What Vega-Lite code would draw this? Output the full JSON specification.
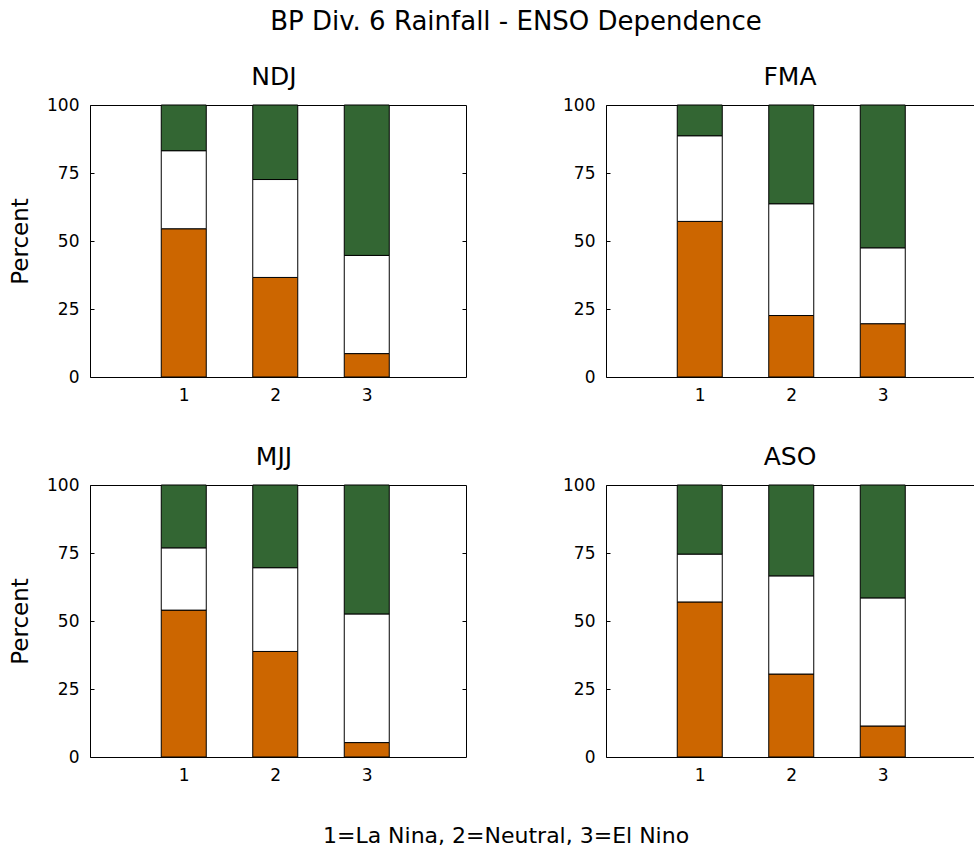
{
  "$schema": "https://vega.github.io/schema/vega-lite/v6.json",
  "background": "white",
  "padding": {"left": 9, "top": 8, "right": 0, "bottom": 2},
  "config": {
    "font": "DejaVu Sans",
    "view": {"stroke": "black", "strokeWidth": 1},
    "axis": {
      "labelFont": "DejaVu Sans", "labelFontSize": 17, "labelColor": "black",
      "tickColor": "black", "domain": false, "grid": false,
      "titleFont": "DejaVu Sans", "titleFontSize": 23, "titleFontWeight": "normal", "titleColor": "black"
    },
    "axisX": {"tickSize": 0, "labelPadding": 10},
    "axisY": {"tickSize": 4, "offset": -4, "labelPadding": 11},
    "title": {"font": "DejaVu Sans", "fontWeight": "normal", "color": "black", "fontSize": 25, "baseline": "bottom", "offset": 6, "dx": -4}
  },
  "title": {"text": "BP Div. 6 Rainfall - ENSO Dependence", "fontSize": 26, "anchor": "middle", "offset": 30, "dx": 20},
  "data": {"values": [
    {"season": "NDJ", "enso": 1, "tercile": "Below", "t": 1, "pct": 54.5},
    {"season": "NDJ", "enso": 1, "tercile": "Near", "t": 2, "pct": 28.7},
    {"season": "NDJ", "enso": 1, "tercile": "Above", "t": 3, "pct": 16.8},
    {"season": "NDJ", "enso": 2, "tercile": "Below", "t": 1, "pct": 36.6},
    {"season": "NDJ", "enso": 2, "tercile": "Near", "t": 2, "pct": 36.0},
    {"season": "NDJ", "enso": 2, "tercile": "Above", "t": 3, "pct": 27.4},
    {"season": "NDJ", "enso": 3, "tercile": "Below", "t": 1, "pct": 8.6},
    {"season": "NDJ", "enso": 3, "tercile": "Near", "t": 2, "pct": 36.1},
    {"season": "NDJ", "enso": 3, "tercile": "Above", "t": 3, "pct": 55.3},
    {"season": "FMA", "enso": 1, "tercile": "Below", "t": 1, "pct": 57.2},
    {"season": "FMA", "enso": 1, "tercile": "Near", "t": 2, "pct": 31.5},
    {"season": "FMA", "enso": 1, "tercile": "Above", "t": 3, "pct": 11.3},
    {"season": "FMA", "enso": 2, "tercile": "Below", "t": 1, "pct": 22.6},
    {"season": "FMA", "enso": 2, "tercile": "Near", "t": 2, "pct": 41.1},
    {"season": "FMA", "enso": 2, "tercile": "Above", "t": 3, "pct": 36.3},
    {"season": "FMA", "enso": 3, "tercile": "Below", "t": 1, "pct": 19.6},
    {"season": "FMA", "enso": 3, "tercile": "Near", "t": 2, "pct": 27.9},
    {"season": "FMA", "enso": 3, "tercile": "Above", "t": 3, "pct": 52.5},
    {"season": "MJJ", "enso": 1, "tercile": "Below", "t": 1, "pct": 54.0},
    {"season": "MJJ", "enso": 1, "tercile": "Near", "t": 2, "pct": 22.9},
    {"season": "MJJ", "enso": 1, "tercile": "Above", "t": 3, "pct": 23.1},
    {"season": "MJJ", "enso": 2, "tercile": "Below", "t": 1, "pct": 38.8},
    {"season": "MJJ", "enso": 2, "tercile": "Near", "t": 2, "pct": 30.8},
    {"season": "MJJ", "enso": 2, "tercile": "Above", "t": 3, "pct": 30.4},
    {"season": "MJJ", "enso": 3, "tercile": "Below", "t": 1, "pct": 5.3},
    {"season": "MJJ", "enso": 3, "tercile": "Near", "t": 2, "pct": 47.3},
    {"season": "MJJ", "enso": 3, "tercile": "Above", "t": 3, "pct": 47.4},
    {"season": "ASO", "enso": 1, "tercile": "Below", "t": 1, "pct": 57.0},
    {"season": "ASO", "enso": 1, "tercile": "Near", "t": 2, "pct": 17.6},
    {"season": "ASO", "enso": 1, "tercile": "Above", "t": 3, "pct": 25.4},
    {"season": "ASO", "enso": 2, "tercile": "Below", "t": 1, "pct": 30.5},
    {"season": "ASO", "enso": 2, "tercile": "Near", "t": 2, "pct": 36.1},
    {"season": "ASO", "enso": 2, "tercile": "Above", "t": 3, "pct": 33.4},
    {"season": "ASO", "enso": 3, "tercile": "Below", "t": 1, "pct": 11.4},
    {"season": "ASO", "enso": 3, "tercile": "Near", "t": 2, "pct": 47.1},
    {"season": "ASO", "enso": 3, "tercile": "Above", "t": 3, "pct": 41.5}
  ]},
  "vconcat": [{
    "title": {"text": "1=La Nina, 2=Neutral, 3=El Nino", "orient": "bottom", "fontSize": 22, "baseline": "top", "offset": 42, "anchor": "middle", "dx": 10},
    "columns": 2,
    "spacing": {"row": 108, "column": 140},
    "bounds": "flush",
    "concat": [
      {
        "width": 376, "height": 272, "title": "NDJ",
        "transform": [{"filter": "datum.season === 'NDJ'"}],
        "layer": [
          {"mark": {"type": "bar", "width": 45, "stroke": "black", "strokeWidth": 1},
           "encoding": {
             "x": {"field": "enso", "type": "quantitative", "scale": {"domain": [0.03, 4.03], "nice": false, "zero": false}, "axis": {"values": [1, 2, 3], "title": null}},
             "y": {"field": "pct", "type": "quantitative", "stack": "zero", "scale": {"domain": [0, 100], "nice": false}, "axis": {"values": [0, 25, 50, 75, 100], "title": "Percent", "titlePadding": 14}},
             "color": {"field": "tercile", "type": "nominal", "scale": {"domain": ["Below", "Near", "Above"], "range": ["#CC6600", "#FFFFFF", "#336633"]}, "legend": null},
             "order": {"field": "t", "type": "quantitative"}
           }},
          {"mark": {"type": "rule", "opacity": 0},
           "encoding": {"y": {"field": "pct", "type": "quantitative", "axis": {"orient": "right", "values": [25, 50, 75], "labels": false, "title": null}}}}
        ],
        "resolve": {"axis": {"y": "independent"}}
      },
      {
        "width": 376, "height": 272, "title": "FMA",
        "transform": [{"filter": "datum.season === 'FMA'"}],
        "layer": [
          {"mark": {"type": "bar", "width": 45, "stroke": "black", "strokeWidth": 1},
           "encoding": {
             "x": {"field": "enso", "type": "quantitative", "scale": {"domain": [0.03, 4.03], "nice": false, "zero": false}, "axis": {"values": [1, 2, 3], "title": null}},
             "y": {"field": "pct", "type": "quantitative", "stack": "zero", "scale": {"domain": [0, 100], "nice": false}, "axis": {"values": [0, 25, 50, 75, 100], "title": null}},
             "color": {"field": "tercile", "type": "nominal", "scale": {"domain": ["Below", "Near", "Above"], "range": ["#CC6600", "#FFFFFF", "#336633"]}, "legend": null},
             "order": {"field": "t", "type": "quantitative"}
           }},
          {"mark": {"type": "rule", "opacity": 0},
           "encoding": {"y": {"field": "pct", "type": "quantitative", "axis": {"orient": "right", "values": [25, 50, 75], "labels": false, "title": null}}}}
        ],
        "resolve": {"axis": {"y": "independent"}}
      },
      {
        "width": 376, "height": 272, "title": "MJJ",
        "transform": [{"filter": "datum.season === 'MJJ'"}],
        "layer": [
          {"mark": {"type": "bar", "width": 45, "stroke": "black", "strokeWidth": 1},
           "encoding": {
             "x": {"field": "enso", "type": "quantitative", "scale": {"domain": [0.03, 4.03], "nice": false, "zero": false}, "axis": {"values": [1, 2, 3], "title": null}},
             "y": {"field": "pct", "type": "quantitative", "stack": "zero", "scale": {"domain": [0, 100], "nice": false}, "axis": {"values": [0, 25, 50, 75, 100], "title": "Percent", "titlePadding": 14}},
             "color": {"field": "tercile", "type": "nominal", "scale": {"domain": ["Below", "Near", "Above"], "range": ["#CC6600", "#FFFFFF", "#336633"]}, "legend": null},
             "order": {"field": "t", "type": "quantitative"}
           }},
          {"mark": {"type": "rule", "opacity": 0},
           "encoding": {"y": {"field": "pct", "type": "quantitative", "axis": {"orient": "right", "values": [25, 50, 75], "labels": false, "title": null}}}}
        ],
        "resolve": {"axis": {"y": "independent"}}
      },
      {
        "width": 376, "height": 272, "title": "ASO",
        "transform": [{"filter": "datum.season === 'ASO'"}],
        "layer": [
          {"mark": {"type": "bar", "width": 45, "stroke": "black", "strokeWidth": 1},
           "encoding": {
             "x": {"field": "enso", "type": "quantitative", "scale": {"domain": [0.03, 4.03], "nice": false, "zero": false}, "axis": {"values": [1, 2, 3], "title": null}},
             "y": {"field": "pct", "type": "quantitative", "stack": "zero", "scale": {"domain": [0, 100], "nice": false}, "axis": {"values": [0, 25, 50, 75, 100], "title": null}},
             "color": {"field": "tercile", "type": "nominal", "scale": {"domain": ["Below", "Near", "Above"], "range": ["#CC6600", "#FFFFFF", "#336633"]}, "legend": null},
             "order": {"field": "t", "type": "quantitative"}
           }},
          {"mark": {"type": "rule", "opacity": 0},
           "encoding": {"y": {"field": "pct", "type": "quantitative", "axis": {"orient": "right", "values": [25, 50, 75], "labels": false, "title": null}}}}
        ],
        "resolve": {"axis": {"y": "independent"}}
      }
    ]
  }]
}
